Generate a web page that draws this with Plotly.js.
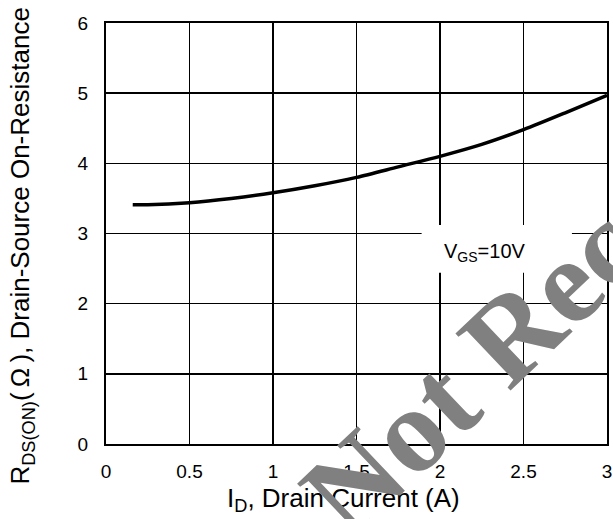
<!DOCTYPE html>
<html>
<head>
<meta charset="utf-8">
<script src="https://cdn.plot.ly/plotly-3.0.1.min.js"></script>
<style>html,body{margin:0;padding:0;background:#fff;}#chart{width:613px;height:519px;}</style>
</head>
<body>
<div id="chart"></div>
<script>
// Data
const drainCurrent = [0.16, 0.25, 0.5, 0.75, 1.0, 1.25, 1.5, 1.75, 2.0, 2.25, 2.5, 2.75, 3.0];
const onResistance = [3.41, 3.41, 3.44, 3.50, 3.58, 3.68, 3.80, 3.95, 4.10, 4.27, 4.48, 4.72, 4.97];
const xTickVals = [0, 0.5, 1, 1.5, 2, 2.5, 3];
const xTickText = ['0', '0.5', '1', '1.5', '2', '2.5', '3'];
const yTickVals = [0, 1, 2, 3, 4, 5, 6];
const yTickText = ['0', '1', '2', '3', '4', '5', '6'];
const xTitle = 'I<sub>D</sub>, Drain Current (A)';
const yTitle = 'R<sub>DS(ON)</sub>(\u2009\u03A9\u2009), Drain-Source On-Resistance';
const conditionLabel = 'V<sub>GS</sub>=10V';
const watermarkText = 'Not Rec';

const sans = 'Liberation Sans, Arial, sans-serif';

const trace = {
  x: drainCurrent,
  y: onResistance,
  type: 'scatter',
  mode: 'lines',
  line: {color: '#000', width: 3.5, shape: 'spline', smoothing: 0.8},
  hoverinfo: 'skip',
  showlegend: false
};

const axisCommon = {
  showgrid: true,
  gridcolor: '#000',
  gridwidth: 1.5,
  showline: true,
  linecolor: '#000',
  linewidth: 2,
  mirror: true,
  zeroline: false,
  ticks: '',
  tickfont: {family: sans, size: 19, color: '#000'},
  fixedrange: true,
  automargin: false
};

const layout = {
  width: 613,
  height: 519,
  margin: {l: 106, r: 6, t: 23, b: 75},
  paper_bgcolor: '#fff',
  plot_bgcolor: '#fff',
  font: {family: sans, color: '#000'},
  xaxis: Object.assign({}, axisCommon, {
    range: [0, 3],
    tickmode: 'array',
    tickvals: xTickVals,
    ticktext: xTickText,
    ticklabelstandoff: 9
  }),
  yaxis: Object.assign({}, axisCommon, {
    range: [0, 6],
    tickmode: 'array',
    tickvals: yTickVals,
    ticktext: yTickText,
    ticklabelstandoff: 12
  }),
  shapes: [{
    type: 'rect', xref: 'x', yref: 'y', layer: 'between',
    x0: 1.89, x1: 2.79, y0: 2.44, y1: 3.12,
    fillcolor: '#fff', line: {width: 0}
  }],
  annotations: [
    {
      text: xTitle, xref: 'paper', yref: 'paper', x: 0.4745, y: -0.132,
      showarrow: false, xanchor: 'center', yanchor: 'middle',
      font: {family: sans, size: 26, color: '#000'}
    },
    {
      text: yTitle, xref: 'paper', yref: 'paper', x: -0.168, y: 0.471,
      showarrow: false, xanchor: 'center', yanchor: 'middle', textangle: -90,
      font: {family: sans, size: 26, color: '#000'}
    },
    {
      text: conditionLabel, xref: 'x', yref: 'y', x: 2.27, y: 2.73,
      showarrow: false, xanchor: 'center', yanchor: 'middle',
      font: {family: sans, size: 20, color: '#000'}
    },
    {
      text: watermarkText, xref: 'paper', yref: 'paper', x: 0.7293, y: 0.1738,
      showarrow: false, xanchor: 'center', yanchor: 'middle', textangle: -43.5,
      font: {family: 'Liberation Serif, Times New Roman, serif', size: 121, color: '#808080', weight: 'bold'}
    }
  ]
};

Plotly.newPlot('chart', [trace], layout, {displayModeBar: false, staticPlot: true});
</script>
</body>
</html>
